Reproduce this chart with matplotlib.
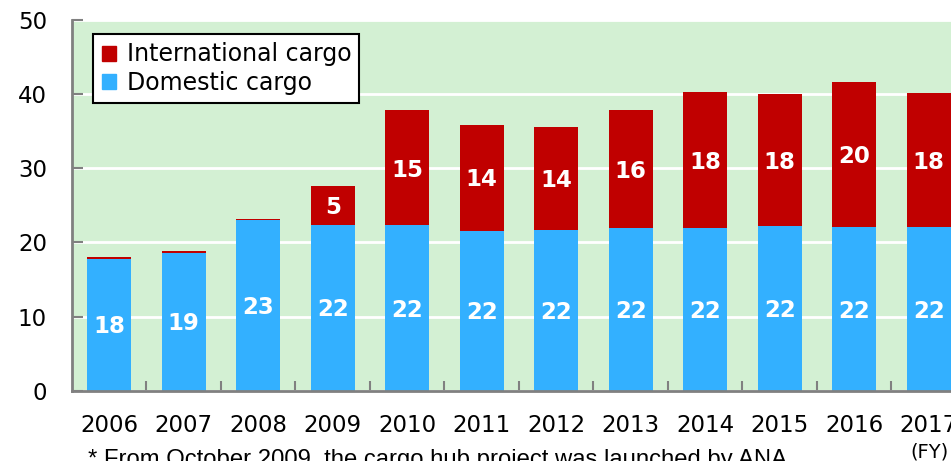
#!/usr/bin/env python3
"""
ANA cargo volume by fiscal year: domestic vs international, stacked bars.
"""

import matplotlib

matplotlib.use("Agg")
import matplotlib.pyplot as plt
from matplotlib.patches import Patch

years = ["2006", "2007", "2008", "2009", "2010", "2011",
         "2012", "2013", "2014", "2015", "2016", "2017"]
domestic = [17.8, 18.6, 23.0, 22.4, 22.3, 21.6, 21.7, 21.9, 21.9, 22.2, 22.1, 22.1]
international = [0.2, 0.2, 0.2, 5.2, 15.5, 14.3, 13.9, 16.0, 18.4, 17.8, 19.6, 18.0]
domestic_labels = ["18", "19", "23", "22", "22", "22", "22", "22", "22", "22", "22", "22"]
international_labels = ["", "", "", "5", "15", "14", "14", "16", "18", "18", "20", "18"]

RED = "#C00000"
BLUE = "#33B0FF"
BG = "#D3F0D3"
GREY = "#808080"

plt.rcParams["font.family"] = ["DejaVu Sans"]

fig = plt.figure(figsize=(9.51, 4.61), dpi=100)
ax = fig.add_axes([0.0757, 0.1525, 0.940, 0.804])
ax.set_facecolor(BG)

xs = list(range(len(years)))
width = 0.59
ax.bar(xs, domestic, width=width, color=BLUE, zorder=3)
ax.bar(xs, international, width=width, bottom=domestic, color=RED, zorder=3)

for x, d, i, dl, il in zip(xs, domestic, international, domestic_labels, international_labels):
    ax.text(x, d / 2 - 0.3, dl, ha="center", va="center", color="white",
            fontsize=16.5, fontweight="bold", zorder=4)
    if il:
        ax.text(x, d + i / 2 - 0.3, il, ha="center", va="center", color="white",
                fontsize=16.5, fontweight="bold", zorder=4)

ax.set_xlim(-0.5, len(years) - 0.5)
ax.set_ylim(0, 50)
ax.set_yticks(range(0, 51, 10))
ax.yaxis.grid(True, color="white", linewidth=2, zorder=1)
ax.set_axisbelow(True)

# category boundaries get the tick marks, labels sit at centres
ax.set_xticks([x + 0.5 for x in xs])
ax.set_xticklabels([])
ax.set_xticks(xs, minor=True)
ax.set_xticklabels(years, minor=True)
ax.tick_params(axis="x", which="major", direction="in", length=7, width=1.5, color=GREY)
ax.tick_params(axis="x", which="minor", length=0, pad=17, labelsize=16.5)
ax.tick_params(axis="y", direction="in", length=8, width=1.5, color=GREY, pad=18, labelsize=16.5)

for side in ("top", "right"):
    ax.spines[side].set_visible(False)
for side in ("left", "bottom"):
    ax.spines[side].set_color(GREY)
    ax.spines[side].set_linewidth(2)
    ax.spines[side].set_zorder(5)

handles = [Patch(color=RED, label="International cargo"),
           Patch(color=BLUE, label="Domestic cargo")]
leg = ax.legend(handles=handles, loc="upper left", bbox_to_anchor=(0.024, 0.962),
                fontsize=17, frameon=True, fancybox=False, edgecolor="black",
                framealpha=1, handlelength=0.6, handleheight=0.6,
                handletextpad=0.45, labelspacing=0.2, borderpad=0.35, borderaxespad=0)
leg.get_frame().set_linewidth(1.5)

fig.text(929 / 951, 1 - 442 / 461, "(FY)", ha="center", va="top", fontsize=14)
fig.text(88 / 951, 1 - 449 / 461,
         "* From October 2009, the cargo hub project was launched by ANA.",
         ha="left", va="top", fontsize=17.2, family=["Liberation Sans"])

fig.savefig("out.png", dpi=100)
